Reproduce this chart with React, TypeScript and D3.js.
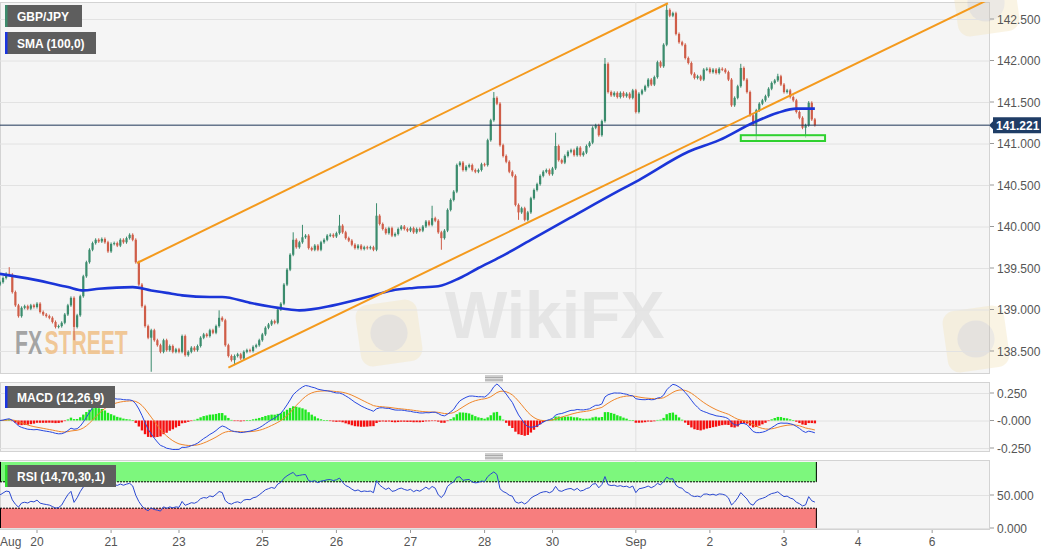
import React, { useMemo } from 'react';
import * as d3 from 'd3';

// ---- Data (hourly candles, index 0 = Aug 19 12:00) ----
const closes: number[] = [
  139.33, 139.38, 139.43, 139.42, 139.21, 139.05, 138.92, 139.02, 139.04, 139.01,
  139.05, 139.03, 139.07, 138.97, 138.94, 138.92, 138.90, 138.85, 138.79, 138.80,
  138.84, 138.94, 139.05, 139.14, 138.79, 138.93, 139.16, 139.40, 139.57, 139.72,
  139.80, 139.84, 139.82, 139.85, 139.81, 139.70, 139.79, 139.80, 139.77, 139.84,
  139.81, 139.86, 139.90, 139.84, 139.57, 139.30, 139.04, 138.80, 138.66, 138.75,
  138.63, 138.57, 138.49, 138.63, 138.51, 138.56, 138.49, 138.52, 138.49, 138.68,
  138.45, 138.49, 138.54, 138.51, 138.56, 138.66, 138.70, 138.68, 138.75, 138.72,
  138.80, 138.90, 138.87, 138.57, 138.44, 138.39, 138.44, 138.46, 138.41, 138.49,
  138.51, 138.50, 138.55, 138.57, 138.63, 138.70, 138.78, 138.82, 138.86, 138.84,
  139.00, 139.07, 139.30, 139.48, 139.66, 139.84, 139.75, 139.81, 139.87, 139.89,
  139.74, 139.72, 139.77, 139.72, 139.81, 139.84, 139.89, 139.90, 139.88, 139.92,
  140.01, 139.93, 139.86, 139.83, 139.78, 139.74, 139.77, 139.73, 139.75, 139.74,
  139.75, 139.72, 140.13, 140.03, 139.97, 139.92, 139.98, 139.89, 139.91, 139.97,
  140.00, 139.97, 139.95, 139.98, 139.93, 139.97, 139.95, 140.00, 140.06, 140.02,
  140.10, 140.07, 139.93, 139.86, 139.95, 140.20, 140.32, 140.42, 140.74, 140.77,
  140.68, 140.72, 140.74, 140.68, 140.66, 140.68, 140.75, 140.74, 141.04, 141.28,
  141.55, 141.48, 140.98, 140.85, 140.78, 140.66, 140.61, 140.26, 140.17, 140.22,
  140.08, 140.17, 140.34, 140.44, 140.51, 140.61, 140.66, 140.68, 140.63, 140.70,
  140.97, 140.80, 140.77, 140.85, 140.90, 140.92, 140.86, 140.95, 140.86, 140.89,
  140.97, 141.01, 141.19, 141.22, 141.10, 141.27, 141.96, 141.62, 141.58, 141.61,
  141.56, 141.61, 141.57, 141.60, 141.55, 141.64, 141.38, 141.60, 141.64, 141.69,
  141.77, 141.71, 141.80, 141.98, 141.93, 142.19, 142.61, 142.54, 142.57, 142.32,
  142.22, 142.19, 142.03, 141.97, 141.84, 141.79, 141.81, 141.77, 141.89, 141.90,
  141.86, 141.89, 141.85, 141.90, 141.89, 141.86, 141.77, 141.46, 141.55, 141.69,
  141.91, 141.77, 141.62, 141.34, 141.23, 141.40, 141.48, 141.52, 141.57, 141.66,
  141.73, 141.76, 141.81, 141.71, 141.62, 141.64, 141.56, 141.52, 141.38, 141.31,
  141.19, 141.22, 141.49, 141.29, 141.221,
];
const firstOpen = 139.3;
// notable wicks: [index, high, low]
const wickIdx = [3, 24, 49, 71, 76, 95, 98, 110, 122, 140, 143, 160, 168, 180, 196, 216, 240, 245, 252, 261, 262];
const wickHigh = [139.51, null, null, 138.99, null, 139.93, 140.02, 140.14, 140.28, 140.25, null, 141.62, null, 141.13, 142.03, 142.69, 141.96, null, 141.84, null, 141.51];
const wickLow = [null, 138.63, 138.25, null, 138.33, null, null, null, null, null, 139.72, null, 140.08, null, null, null, null, 141.02, null, 141.07, null];

const smaIdx = [0, 11, 22, 27, 32, 43, 49, 54, 59, 68, 72, 81, 92, 97, 108, 119, 127, 134, 142, 149, 155, 162, 172, 185, 201, 207, 223, 233, 244, 252, 258, 264];
const smaVal = [139.43, 139.36, 139.27, 139.23, 139.25, 139.27, 139.23, 139.2, 139.17, 139.15, 139.15, 139.08, 139.01, 138.99, 139.05, 139.15, 139.23, 139.26, 139.28, 139.38, 139.5, 139.63, 139.84, 140.11, 140.44, 140.56, 140.9, 141.04, 141.25, 141.37, 141.42, 141.42];

const upperChannelIdx = [44.4, 216.4];
const upperChannelPrice = [139.56, 142.69];
const lowerChannelIdx = [74, 330];
const lowerChannelPrice = [138.3, 142.91];
const supportIdx = [240, 267.3];
const supportPrice = [141.03, 141.1];
const currentPrice = 141.221;

const dayLabels = ['20', '21', '23', '25', '26', '27', '28', '30', 'Sep', '2', '3', '4', '6'];
const dayIdx = [12, 36, 58, 85, 109, 133, 157, 179, 206, 230, 254, 278, 302];
const priceTicks = [138.5, 139, 139.5, 140, 140.5, 141, 141.5, 142, 142.5];
const macdTicks = [0.25, 0, -0.25];
const macdTickLabels = ['0.250', '-0.000', '-0.250'];
const rsiTicks = [50, 0];
const rsiTickLabels = ['50.000', '0.000'];

const FONT = "'Liberation Sans', Arial, Helvetica, sans-serif";

function ema(arr: number[], n: number) {
  const k = 2 / (n + 1);
  const out: number[] = [];
  arr.forEach((v, i) => out.push(i === 0 ? v : v * k + out[i - 1] * (1 - k)));
  return out;
}

export default function App() {
  const plotR = 989;
  const mainP = { top: 2, bottom: 373 };
  const macdP = { top: 382, bottom: 451 };
  const rsiP = { top: 460, bottom: 529 };

  const x = d3.scaleLinear().domain([12, 254]).range([37, 784]);
  const y = d3.scaleLinear().domain([138.5, 142.5]).range([351, 19]);
  const ym = d3.scaleLinear().domain([-0.25, 0.25]).range([448, 393]);
  const yr = d3.scaleLinear().domain([0, 50]).range([528, 495]);

  const { candles, macd, signal, hist, rsi } = useMemo(() => {
    const candles = closes.map((c, i) => {
      const o = i === 0 ? firstOpen : closes[i - 1];
      const k = wickIdx.indexOf(i);
      const hi = k >= 0 && wickHigh[k] != null ? (wickHigh[k] as number) : Math.max(o, c) + 0.018;
      const lo = k >= 0 && wickLow[k] != null ? (wickLow[k] as number) : Math.min(o, c) - 0.018;
      return { i, o, c, h: hi, l: lo };
    });
    const e12 = ema(closes, 12);
    const e26 = ema(closes, 26);
    const macd = e12.map((v, i) => v - e26[i]);
    const signal = ema(macd, 9);
    const hist = macd.map((v, i) => v - signal[i]);
    const rsi: number[] = [];
    let ag = 0.03, al = 0.03;
    closes.forEach((c, i) => {
      if (i > 0) {
        const d = c - closes[i - 1];
        ag = (ag * 13 + Math.max(d, 0)) / 14;
        al = (al * 13 + Math.max(-d, 0)) / 14;
      }
      rsi.push(100 - 100 / (1 + ag / al));
    });
    return { candles, macd, signal, hist, rsi };
  }, []);

  const lastX = x(closes.length - 1) + 1.5;
  const smaLine = d3.line<number>().x((_, k) => x(smaIdx[k])).y((v) => y(v)).curve(d3.curveMonotoneX)(smaVal) || '';
  const macdLine = d3.line<number>().x((_, i) => x(i)).y((v) => ym(v))(macd) || '';
  const sigLine = d3.line<number>().x((_, i) => x(i)).y((v) => ym(v))(signal) || '';
  const rsiLine = d3.line<number>().x((_, i) => x(i)).y((v) => yr(v))(rsi) || '';

  const panel = (p: { top: number; bottom: number }) => (
    <rect x={0.5} y={p.top + 0.5} width={plotR} height={p.bottom - p.top} fill="#f5f5f5" stroke="#d3d3d3" />
  );
  const sepX = x(206);

  const handle = (yy: number) => (
    <g stroke="#888" strokeWidth={0.8}>
      {[0, 1.6, 3.2, 4.8].map((d) => (
        <line key={d} x1={485} x2={503} y1={yy + d} y2={yy + d} />
      ))}
    </g>
  );

  const label = (lx: number, ly: number, w: number, text: string, accent: string) => (
    <g>
      <rect x={lx} y={ly} width={w} height={22} fill="#5e5e5e" />
      <rect x={lx} y={ly} width={2.5} height={22} fill={accent} />
      <text x={lx + 12} y={ly + 15.5} fill="#fff" fontSize={12} fontWeight="bold" fontFamily={FONT}>
        {text}
      </text>
    </g>
  );

  const logo = (lx: number, ly: number, s: number) => (
    <g opacity={0.35}>
      <rect x={lx} y={ly} width={s} height={s} rx={s * 0.2} fill="#f3e2b5" transform={`rotate(-8 ${lx + s / 2} ${ly + s / 2})`} />
      <circle cx={lx + s / 2} cy={ly + s / 2} r={s * 0.3} fill="#c9c1b5" />
    </g>
  );

  return (
    <svg width={1060} height={555} style={{ position: 'absolute', left: 0, top: 0, background: '#fff' }} fontFamily={FONT}>
      <defs>
        <clipPath id="clipMain">
          <rect x={0} y={mainP.top} width={plotR} height={mainP.bottom - mainP.top} />
        </clipPath>
        <clipPath id="clipMacd">
          <rect x={0} y={macdP.top} width={plotR} height={macdP.bottom - macdP.top} />
        </clipPath>
        <clipPath id="clipRsi">
          <rect x={0} y={rsiP.top} width={plotR} height={rsiP.bottom - rsiP.top} />
        </clipPath>
      </defs>

      {/* panels */}
      {panel(mainP)}
      {panel(macdP)}
      {panel(rsiP)}

      {/* watermarks */}
      {logo(358, 302, 62)}
      {logo(945, 308, 62)}
      {logo(955, -28, 62)}
      <text x={445} y={338} fontSize={66} fontWeight="bold" fill="#c8c8c8" opacity={0.35} fontFamily={FONT}>
        WikiFX
      </text>

      {/* main grid */}
      <g clipPath="url(#clipMain)">
        {priceTicks.map((p) => (
          <line key={p} x1={0} x2={plotR} y1={y(p) + 0.5} y2={y(p) + 0.5} stroke="#e2e2e2" />
        ))}
        <line x1={sepX} x2={sepX} y1={mainP.top} y2={mainP.bottom} stroke="#e0e0e0" />
        <g transform="translate(15,354) scale(0.64,1)">
          <text x={0} y={0} fontSize={33} fontWeight="bold" fill="#8e8e8e" fillOpacity={0.8}>FX</text>
          <text x={46} y={0} fontSize={33} fontWeight="bold" fill="#f0bf85" fillOpacity={0.85}>STREET</text>
        </g>

        {/* candles */}
        {candles.map((d) => {
          const up = d.c >= d.o;
          const col = up ? '#3b8c6d' : '#cf5d48';
          const cx = x(d.i);
          const yt = y(Math.max(d.o, d.c));
          const yb = y(Math.min(d.o, d.c));
          return (
            <g key={d.i}>
              <line x1={cx} x2={cx} y1={y(d.h)} y2={y(d.l)} stroke={col} strokeWidth={1} />
              <rect x={cx - 1.1} y={yt} width={2.2} height={Math.max(1, yb - yt)} fill={col} />
            </g>
          );
        })}

        {/* current price line */}
        <line x1={0} x2={plotR} y1={y(currentPrice)} y2={y(currentPrice)} stroke="#1d3557" strokeWidth={1} />

        {/* SMA */}
        <path d={smaLine} fill="none" stroke="#1b35d8" strokeWidth={2.6} />

        {/* channel */}
        <line x1={x(upperChannelIdx[0])} y1={y(upperChannelPrice[0])} x2={x(upperChannelIdx[1])} y2={y(upperChannelPrice[1])} stroke="#f49a1d" strokeWidth={2} />
        <line x1={x(lowerChannelIdx[0])} y1={y(lowerChannelPrice[0])} x2={x(lowerChannelIdx[1])} y2={y(lowerChannelPrice[1])} stroke="#f49a1d" strokeWidth={2} />

        {/* support zone */}
        <rect
          x={x(supportIdx[0])}
          y={y(supportPrice[1])}
          width={x(supportIdx[1]) - x(supportIdx[0])}
          height={y(supportPrice[0]) - y(supportPrice[1])}
          fill="#eaf7e2"
          fillOpacity={0.6}
          stroke="#2fd12f"
          strokeWidth={2}
        />
      </g>

      {/* main axis */}
      <g fontSize={12} fill="#555">
        {priceTicks.map((p) => (
          <g key={p}>
            <line x1={plotR + 1} x2={plotR + 5} y1={y(p)} y2={y(p)} stroke="#999" />
            <text x={997} y={y(p) + 4.5}>{p.toFixed(3)}</text>
          </g>
        ))}
      </g>
      <g>
        <path d={`M${plotR} ${y(currentPrice)} L${plotR + 4} ${y(currentPrice) - 4} V${y(currentPrice) - 8} H1041 V${y(currentPrice) + 8} H${plotR + 4} V${y(currentPrice) + 4} Z`} fill="#1f3d66" />
        <text x={996} y={y(currentPrice) + 4.5} fontSize={12} fontWeight="bold" fill="#fff">
          {currentPrice.toFixed(3)}
        </text>
      </g>

      {/* labels */}
      {label(5, 5, 77, 'GBP/JPY', '#3d8b6c')}
      {label(5, 32, 91, 'SMA (100,0)', '#1b35e0')}

      {handle(376)}
      {handle(454)}

      {/* MACD panel */}
      <g clipPath="url(#clipMacd)">
        {macdTicks.map((t) => (
          <line key={t} x1={0} x2={plotR} y1={ym(t) + 0.5} y2={ym(t) + 0.5} stroke="#e2e2e2" />
        ))}
        <line x1={sepX} x2={sepX} y1={macdP.top} y2={macdP.bottom} stroke="#e0e0e0" />
        {hist.map((h, i) => (
          <rect
            key={i}
            x={x(i) - 1.2}
            y={h >= 0 ? ym(h) : ym(0)}
            width={2.4}
            height={Math.max(0.6, Math.abs(ym(h) - ym(0)))}
            fill={h >= 0 ? '#1ee81e' : '#f51010'}
          />
        ))}
        <path d={sigLine} fill="none" stroke="#f0862a" strokeWidth={1} />
        <path d={macdLine} fill="none" stroke="#2848e0" strokeWidth={1} />
      </g>
      <g fontSize={12} fill="#555">
        {macdTicks.map((t, k) => (
          <g key={t}>
            <line x1={plotR + 1} x2={plotR + 5} y1={ym(t)} y2={ym(t)} stroke="#999" />
            <text x={997} y={ym(t) + 4.5}>{macdTickLabels[k]}</text>
          </g>
        ))}
      </g>
      {label(5, 386, 110, 'MACD (12,26,9)', '#1b35e0')}

      {/* RSI panel */}
      <g clipPath="url(#clipRsi)">
        {rsiTicks.map((t) => (
          <line key={t} x1={0} x2={plotR} y1={yr(t) + 0.5} y2={yr(t) + 0.5} stroke="#e2e2e2" />
        ))}
        <line x1={sepX} x2={sepX} y1={rsiP.top} y2={rsiP.bottom} stroke="#e0e0e0" />
        <rect x={0.5} y={yr(100)} width={lastX} height={yr(70) - yr(100)} fill="#7df77d" />
        <rect x={0.5} y={yr(30)} width={lastX} height={yr(0) - yr(30)} fill="#f77e7e" />
        <line x1={0} x2={lastX} y1={yr(70)} y2={yr(70)} stroke="#000" strokeDasharray="2,1" />
        <line x1={0} x2={lastX} y1={yr(30)} y2={yr(30)} stroke="#000" strokeDasharray="2,1" />
        <line x1={lastX} x2={lastX} y1={yr(100)} y2={yr(70)} stroke="#000" />
        <line x1={lastX} x2={lastX} y1={yr(30)} y2={yr(0)} stroke="#000" />
        <line x1={0.5} x2={0.5} y1={yr(100)} y2={yr(70)} stroke="#000" />
        <line x1={0.5} x2={0.5} y1={yr(30)} y2={yr(0)} stroke="#000" />
        <path d={rsiLine} fill="none" stroke="#2a48d0" strokeWidth={1} />
      </g>
      <g fontSize={12} fill="#555">
        {rsiTicks.map((t, k) => (
          <g key={t}>
            <line x1={plotR + 1} x2={plotR + 5} y1={yr(t)} y2={yr(t)} stroke="#999" />
            <text x={997} y={yr(t) + 4.5}>{rsiTickLabels[k]}</text>
          </g>
        ))}
      </g>
      {label(5, 465, 111, 'RSI (14,70,30,1)', '#2de02d')}

      {/* x axis */}
      <g fontSize={12} fill="#555">
        <text x={0} y={546}>Aug</text>
        {dayLabels.map((lb, k) => (
          <g key={lb + k}>
            <line x1={x(dayIdx[k])} x2={x(dayIdx[k])} y1={rsiP.bottom + 1} y2={rsiP.bottom + 4} stroke="#999" />
            <text x={x(dayIdx[k])} y={546} textAnchor="middle">{lb}</text>
          </g>
        ))}
      </g>
    </svg>
  );
}
